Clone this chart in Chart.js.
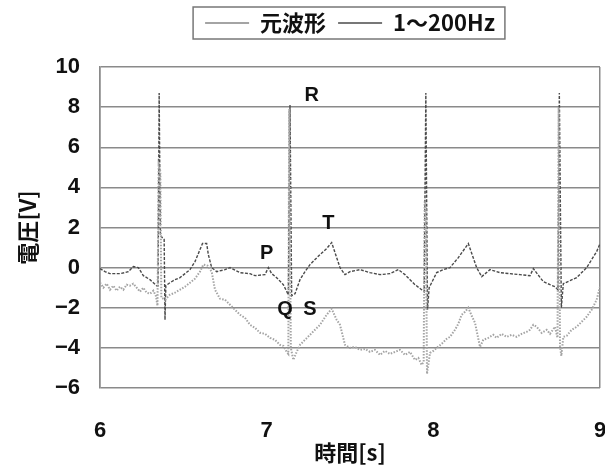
<!DOCTYPE html>
<html>
<head>
<meta charset="utf-8">
<script src="https://cdn.jsdelivr.net/npm/chart.js@4"></script>
<style>
  html, body { margin: 0; padding: 0; background: #fff; }
  #wrap { width: 605px; height: 466px; }
</style>
</head>
<body>
<div id="wrap"><canvas id="ecgChart" width="605" height="466"></canvas></div>
<script>
// series names
const seriesNames = ["元波形", "1～200Hz"];

// original waveform (time [s], voltage [V])
const origTime = [6.0, 6.02, 6.04, 6.06, 6.08, 6.1, 6.12, 6.14, 6.16, 6.18, 6.2, 6.22, 6.24, 6.26, 6.28, 6.3, 6.32, 6.335, 6.345,
  6.352, 6.362, 6.368, 6.39, 6.42, 6.45, 6.48, 6.51, 6.54, 6.57, 6.6, 6.62, 6.645, 6.67, 6.69, 6.72, 6.75, 6.78, 6.81, 6.84,
  6.87, 6.9, 6.93, 6.96, 6.99, 7.02, 7.05, 7.08, 7.1, 7.12, 7.13, 7.135, 7.145, 7.16, 7.18, 7.2, 7.23, 7.26, 7.29, 7.32, 7.34,
  7.36, 7.39, 7.42, 7.44, 7.47, 7.5, 7.53, 7.56, 7.59, 7.62, 7.65, 7.68, 7.71, 7.74, 7.77, 7.8, 7.83, 7.86, 7.89, 7.91, 7.93,
  7.942, 7.948, 7.955, 7.962, 7.98, 8.0, 8.02, 8.05, 8.08, 8.1, 8.13, 8.15, 8.17, 8.19, 8.21, 8.23, 8.25, 8.28, 8.3, 8.33,
  8.36, 8.38, 8.41, 8.44, 8.47, 8.5, 8.53, 8.56, 8.58, 8.6, 8.62, 8.65, 8.68, 8.7, 8.73, 8.745, 8.752, 8.76, 8.768, 8.78,
  8.8, 8.83, 8.86, 8.89, 8.92, 8.95, 8.98, 9.0];
const origVolt = [-0.75, -1.0, -0.8, -1.1, -0.9, -1.15, -0.95, -1.1, -0.85, -0.9, -0.8, -1.0, -1.2, -1.0, -1.25, -1.3, -1.15, -1.4, -1.9,
  5.1, 4.8, -1.5, -1.6, -1.35, -1.25, -1.1, -0.95, -0.75, -0.55, -0.2, 0.15, 0.1, -0.2, -1.1, -1.55, -1.6, -1.85, -2.1, -2.35,
  -2.5, -2.85, -3.0, -3.25, -3.3, -3.5, -3.6, -3.85, -3.9, -4.2, -4.3, 7.9, -4.0, -4.6, -4.2, -3.85, -3.6, -3.35, -3.1, -2.85, -2.6,
  -2.35, -2.05, -2.6, -2.85, -3.85, -4.0, -3.95, -4.1, -4.05, -4.2, -4.1, -4.35, -4.15, -4.3, -4.2, -4.1, -4.35, -4.2, -4.6, -4.5, -4.85,
  -4.7, 3.3, 3.0, -5.3, -4.25, -4.15, -4.0, -3.8, -3.55, -3.45, -3.1, -2.8, -2.35, -2.2, -2.0, -2.4, -2.75, -3.95, -3.6, -3.5,
  -3.35, -3.5, -3.3, -3.45, -3.35, -3.45, -3.3, -3.2, -3.1, -2.85, -2.95, -3.25, -3.1, -3.3, -2.95, -3.5, 8.0, -3.9, -4.4, -3.45,
  -3.4, -3.1, -2.95, -2.7, -2.45, -2.1, -1.6, -0.95];

// 1~200Hz filtered waveform
const filtTime = [6.0, 6.03, 6.06, 6.09, 6.12, 6.15, 6.17, 6.2, 6.23, 6.26, 6.3, 6.34, 6.348, 6.355, 6.362, 6.385, 6.39, 6.395,
  6.42, 6.45, 6.48, 6.51, 6.54, 6.57, 6.6, 6.615, 6.64, 6.65, 6.67, 6.7, 6.75, 6.78, 6.84, 6.9, 6.93, 6.99, 7.01, 7.03, 7.06,
  7.1, 7.13, 7.14, 7.15, 7.17, 7.2, 7.23, 7.26, 7.29, 7.32, 7.36, 7.39, 7.44, 7.47, 7.5, 7.56, 7.62, 7.68, 7.74, 7.79, 7.83,
  7.86, 7.89, 7.93, 7.945, 7.955, 7.965, 7.975, 8.02, 8.06, 8.1, 8.15, 8.21, 8.26, 8.29, 8.34, 8.4, 8.46, 8.52, 8.58, 8.6,
  8.66, 8.7, 8.73, 8.748, 8.756, 8.768, 8.78, 8.82, 8.86, 8.92, 8.98, 9.0];
const filtVolt = [-0.05, -0.2, -0.3, -0.3, -0.3, -0.25, -0.2, 0.05, 0.0, -0.4, -0.6, -0.9, -0.9, 8.7, 1.6, 1.4, -2.6, -0.9,
  -0.75, -0.6, -0.5, -0.3, -0.1, 0.3, 0.9, 1.2, 1.2, 0.65, 0.0, -0.2, -0.1, 0.0, -0.25, -0.3, -0.4, -0.35, 0.0, -0.3, -0.5,
  -0.85, -1.35, 8.1, -1.4, -1.3, -0.6, -0.2, 0.15, 0.4, 0.65, 0.95, 1.25, 0.0, -0.35, -0.2, -0.1, -0.25, -0.35, -0.3, -0.1, -0.35,
  -0.6, -0.85, -1.1, -1.2, 8.7, -2.1, -1.0, -0.25, -0.1, 0.0, 0.5, 1.2, 0.0, -0.45, -0.1, -0.25, -0.3, -0.35, -0.4, -0.05,
  -0.7, -0.85, -0.95, -1.1, 8.7, -2.0, -0.8, -0.65, -0.5, 0.0, 0.8, 1.2];

// wave labels (name, time, voltage)
const waveNames = ["R", "T", "P", "Q", "S"];
const waveTime = [7.27, 7.37, 7.0, 7.11, 7.26];
const waveVolt = [8.6, 2.2, 0.7, -2.1, -2.1];

const yTicks = [10, 8, 6, 4, 2, 0, -2, -4, -6];
const xTicks = [6, 7, 8, 9];

const toPoints = (xs, ys) => xs.map((x, i) => ({ x: x, y: ys[i] }));

const tickFont = { family: "'Liberation Sans', Arial, sans-serif", size: 22, weight: "bold" };
const cjkFont = { family: "'Noto Sans CJK JP', 'Liberation Sans', sans-serif", size: 22, weight: "bold" };

// frame around legend + P/Q/R/S/T text
const extras = {
  id: "extras",
  beforeLayout(chart) {
    const lg = chart.legend;
    if (lg && !lg._patched) {
      const fit = lg.fit;
      lg.fit = function () { fit.call(this); this.height = 67; };
      lg._patched = true;
    }
  },
  afterDraw(chart) {
    const ctx = chart.ctx;
    const boxes = chart.legend.legendHitBoxes;
    if (boxes && boxes.length) {
      let l = Infinity, r = -Infinity, t = Infinity, b = -Infinity;
      boxes.forEach(h => {
        l = Math.min(l, h.left); r = Math.max(r, h.left + h.width);
        t = Math.min(t, h.top); b = Math.max(b, h.top + h.height);
      });
      ctx.save();
      ctx.strokeStyle = "#777";
      ctx.lineWidth = 1.5;
      ctx.strokeRect(l - 12, t - 5, r - l + 22, b - t + 10);
      ctx.restore();
    }
    const xs = chart.scales.x, ys = chart.scales.y;
    ctx.save();
    ctx.fillStyle = "#111";
    ctx.font = "bold 20px 'Liberation Sans', Arial, sans-serif";
    ctx.textAlign = "center";
    ctx.textBaseline = "middle";
    waveNames.forEach((n, i) => {
      ctx.fillText(n, xs.getPixelForValue(waveTime[i]), ys.getPixelForValue(waveVolt[i]));
    });
    ctx.restore();
  }
};

const ctx = document.getElementById("ecgChart").getContext("2d");
const ecgChart = new Chart(ctx, {
  type: "line",
  data: {
    datasets: [
      {
        label: seriesNames[0],
        data: toPoints(origTime, origVolt),
        borderColor: "#a4a4a4",
        borderWidth: 2,
        borderDash: [1.5, 1.5],
        pointRadius: 0,
        tension: 0,
      },
      {
        label: seriesNames[1],
        data: toPoints(filtTime, filtVolt),
        borderColor: "#4a4a4a",
        borderWidth: 1.4,
        borderDash: [3, 1.5],
        pointRadius: 0,
        tension: 0,
      },
    ],
  },
  options: {
    responsive: false,
    animation: false,
    layout: { padding: { left: 0, right: 5, top: 0, bottom: 0 } },
    plugins: {
      legend: {
        position: "top",
        fullSize: false,
        labels: {
          usePointStyle: true,
          pointStyle: "line",
          pointStyleWidth: 44,
          color: "#111",
          font: cjkFont,
          padding: 12,
        },
      },
      tooltip: { enabled: false },
    },
    scales: {
      x: {
        type: "linear",
        min: 6,
        max: 9,
        afterBuildTicks: s => { s.ticks = xTicks.map(v => ({ value: v })); },
        afterFit: s => { s.height = 78; s.paddingLeft = 0; s.paddingRight = 0; },
        ticks: { font: tickFont, color: "#111", padding: 30 },
        grid: {
          drawTicks: false,
          color: c => (c.tick && (c.tick.value === 6 || c.tick.value === 9)) ? "#8a8a8a" : "rgba(0,0,0,0)",
          lineWidth: 1.5,
        },
        border: { display: false },
        title: { display: true, text: "時間[s]", font: cjkFont, color: "#111", padding: { top: -8, bottom: 0 } },
      },
      y: {
        min: -6,
        max: 10,
        afterBuildTicks: s => { s.ticks = yTicks.map(v => ({ value: v })); },
        afterFit: s => { s.width = 100; },
        ticks: {
          font: tickFont,
          color: "#111",
          padding: 20,
          callback: v => String(v).replace("-", "−"),
        },
        grid: { drawTicks: false, color: "#8a8a8a", lineWidth: 1.5 },
        border: { display: true, color: "#8a8a8a", width: 1.5 },
        title: { display: true, text: "電圧[V]", font: cjkFont, color: "#111", padding: { top: 14, bottom: 0 } },
      },
    },
  },
  plugins: [extras],
});
</script>
</body>
</html>
